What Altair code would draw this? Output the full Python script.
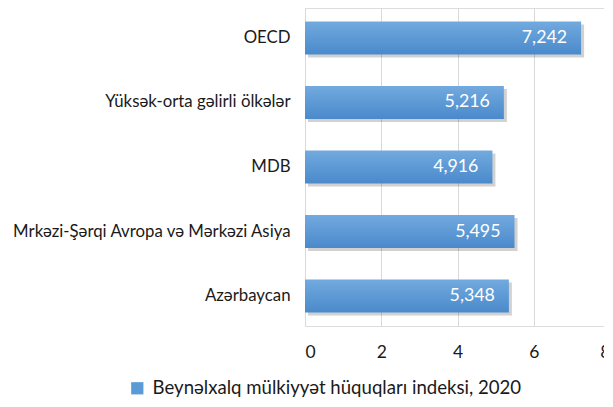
import altair as alt
import pandas as pd

categories = ["OECD", "Yüksək-orta gəlirli ölkələr", "MDB",
              "Mrkəzi-Şərqi Avropa və Mərkəzi Asiya", "Azərbaycan"]
values = [7.242, 5.216, 4.916, 5.495, 5.348]
series_name = "Beynəlxalq mülkiyyət hüquqları indeksi, 2020"
x_ticks = [0, 2, 4, 6, 8]

df = pd.DataFrame({
    "cat": categories,
    "val": values,
    "label": [f"{v:.3f}".replace(".", ",") for v in values],
    "series": [series_name] * len(values),
})

FONT = "Lato"

y_enc = alt.Y("cat:N", sort=None, title=None,
              scale=alt.Scale(paddingInner=0.49, paddingOuter=0.21),
              axis=alt.Axis(labelFontSize=16.8, labelColor="#1a1a1a", labelFont=FONT,
                            labelPadding=15, ticks=False, domain=False,
                            labelLimit=400))
x_enc = alt.X("val:Q", title=None,
              scale=alt.Scale(domain=[0, 8], nice=False),
              axis=alt.Axis(values=x_ticks, labelFontSize=17.5, labelColor="#1a1a1a",
                            labelFont=FONT, labelPadding=17, ticks=False, domain=False,
                            grid=True, gridColor="#d9d9d9", gridWidth=1))

base = alt.Chart(df)

shadow = base.mark_bar(color="#000000", opacity=0.18, xOffset=3, yOffset=3).encode(
    x=x_enc, y=y_enc)

bars = base.mark_bar(
    color=alt.Gradient(gradient="linear",
                       stops=[alt.GradientStop(color="#72aadf", offset=0),
                              alt.GradientStop(color="#4a89cb", offset=1)],
                       x1=0, x2=0, y1=0, y2=1)
).encode(x=x_enc, y=y_enc)

text = base.mark_text(align="right", baseline="middle", dx=-14, color="white",
                      fontSize=17.8, font=FONT).encode(
    x="val:Q", y=alt.Y("cat:N", sort=None), text="label:N")

legend_layer = base.mark_square(opacity=0).encode(
    x="val:Q", y=alt.Y("cat:N", sort=None),
    color=alt.Color("series:N", scale=alt.Scale(range=["#5b9bd5"]), title=None,
                    legend=alt.Legend(orient="none", legendX=-177, legendY=371,
                                      symbolType="square", symbolSize=150,
                                      symbolOpacity=1, symbolStrokeWidth=0,
                                      labelFontSize=18.6, labelFont=FONT,
                                      labelColor="#1a1a1a", labelLimit=600,
                                      symbolOffset=0, labelOffset=6)))

chart = alt.layer(shadow, bars, text, legend_layer).properties(
    width=305, height=318,
    autosize=alt.AutoSizeParams(type="none"),
    padding={"left": 297, "top": 0, "right": -6, "bottom": 73},
).configure_view(stroke=None).configure(font=FONT)

chart.save("out.html", embed_options={"renderer": "svg", "actions": False})
